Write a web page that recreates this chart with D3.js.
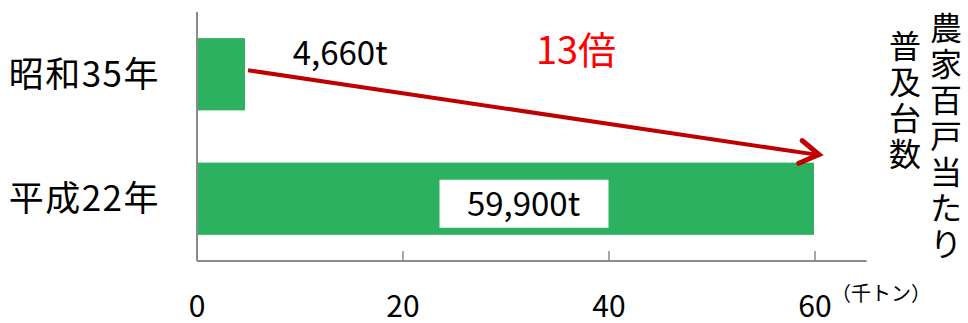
<!DOCTYPE html>
<html lang="ja">
<head>
    <meta charset="UTF-8">
    <title>農家百戸当たり普及台数</title>
    <script src="https://d3js.org/d3.v7.min.js"></script>
    <style>
        body { margin: 0; background: #fff; }
        svg { display: block; }
        text { font-family: "Noto Sans CJK JP", "Noto Sans", sans-serif; fill: #000; }
    </style>
</head>
<body>
    <div id="chart"></div>
    <script>
        // data
        const categories = ["昭和35年", "平成22年"];
        const values = [4.66, 59.9];
        const valueLabels = ["4,660t", "59,900t"];
        const tickValues = [0, 20, 40, 60];
        const ratioLabel = "13倍";
        const unitLabel = "（千トン）";
        const titleCols = ["農家百戸当たり", "普及台数"];

        const W = 968, H = 323;
        const plotLeft = 197, plotRight = 815, plotTop = 12, plotBottom = 261;

        const svg = d3.select("#chart").append("svg")
            .attr("width", W).attr("height", H);

        const x = d3.scaleLinear().domain([0, 60]).range([plotLeft, plotRight]);
        const y = d3.scaleBand().domain(categories).range([plotTop, plotBottom])
            .paddingInner(0.42).paddingOuter(0.21);

        // bars
        svg.selectAll("rect.bar")
            .data(values)
            .enter().append("rect")
            .attr("class", "bar")
            .attr("x", x(0))
            .attr("y", (d, i) => y(categories[i]))
            .attr("width", d => x(d) - x(0))
            .attr("height", y.bandwidth())
            .attr("fill", "#2bb15f");

        // axes
        const axisColor = "#8a8a8a";
        svg.append("line")
            .attr("x1", x(0)).attr("x2", x(0))
            .attr("y1", plotTop).attr("y2", plotBottom)
            .attr("stroke", axisColor).attr("stroke-width", 2);
        svg.append("line")
            .attr("x1", x(0)).attr("x2", x(65))
            .attr("y1", plotBottom).attr("y2", plotBottom)
            .attr("stroke", axisColor).attr("stroke-width", 2);
        svg.selectAll("line.tick")
            .data(tickValues)
            .enter().append("line")
            .attr("class", "tick")
            .attr("x1", d => x(d)).attr("x2", d => x(d))
            .attr("y1", plotBottom - 10).attr("y2", plotBottom)
            .attr("stroke", axisColor).attr("stroke-width", 1.5);
        svg.selectAll("text.tickl")
            .data(tickValues)
            .enter().append("text")
            .attr("class", "tickl")
            .attr("x", d => x(d))
            .attr("y", 317)
            .attr("text-anchor", "middle")
            .style("font-size", "30px")
            .text(d => d);

        svg.append("text")
            .attr("x", x(60) + 16)
            .attr("y", 301)
            .style("font-size", "20px")
            .text(unitLabel);

        // category labels
        svg.selectAll("text.cat")
            .data(categories)
            .enter().append("text")
            .attr("class", "cat")
            .attr("x", 160)
            .attr("y", d => y(d) + y.bandwidth() / 2)
            .attr("dy", "0.36em")
            .attr("text-anchor", "end")
            .style("font-size", "35px")
            .style("letter-spacing", "1.5px")
            .text(d => d);

        // value labels
        svg.append("text")
            .attr("x", x(13.9))
            .attr("y", 65)
            .attr("text-anchor", "middle")
            .style("font-size", "33px")
            .text(valueLabels[0]);

        const bx = x(31.7), by = y(categories[1]) + y.bandwidth() / 2 + 5;
        svg.append("rect")
            .attr("x", bx - 84).attr("y", by - 24)
            .attr("width", 169).attr("height", 48)
            .attr("fill", "#fff");
        svg.append("text")
            .attr("x", bx)
            .attr("y", by)
            .attr("dy", "0.36em")
            .attr("text-anchor", "middle")
            .style("font-size", "33px")
            .text(valueLabels[1]);

        // arrow
        const red = "#c00000";
        const x0 = x(values[0]) + 3, y0 = y(categories[0]) + y.bandwidth() / 2 - 4;
        const x1 = x(values[1]) + 5, y1 = y(categories[1]) - 8;
        svg.append("line")
            .attr("x1", x0).attr("y1", y0)
            .attr("x2", x1 - 3).attr("y2", y1)
            .attr("stroke", red).attr("stroke-width", 4);
        const ang = Math.atan2(y1 - y0, x1 - x0);
        const len = 22, spread = 0.55;
        const head = [
            [x1 - len * Math.cos(ang - spread), y1 - len * Math.sin(ang - spread)],
            [x1, y1],
            [x1 - len * Math.cos(ang + spread), y1 - len * Math.sin(ang + spread)]
        ];
        svg.append("path")
            .attr("d", d3.line()(head))
            .attr("fill", "none")
            .attr("stroke", red).attr("stroke-width", 5)
            .attr("stroke-linecap", "round").attr("stroke-linejoin", "miter");

        svg.append("text")
            .attr("x", 576)
            .attr("y", 64)
            .attr("text-anchor", "middle")
            .style("font-size", "38px")
            .style("fill", "#ff0000")
            .text(ratioLabel);

        // vertical title, one character per row
        const colX = [946, 905], colTop = [28, 46], step = 36;
        titleCols.forEach((s, c) => {
            svg.selectAll(null)
                .data(Array.from(s))
                .enter().append("text")
                .attr("x", colX[c])
                .attr("y", (d, i) => colTop[c] + i * step)
                .attr("dy", "0.36em")
                .attr("text-anchor", "middle")
                .style("font-size", "32px")
                .text(d => d);
        });
    </script>
</body>
</html>
